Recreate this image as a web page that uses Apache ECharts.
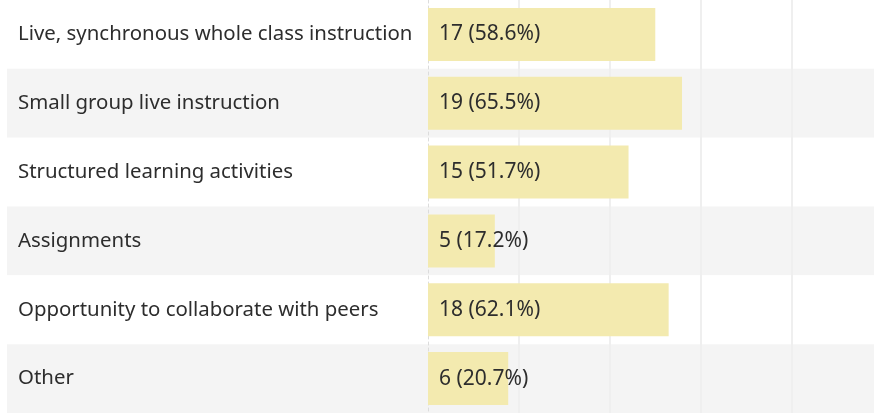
<!DOCTYPE html>
<html>
<head>
<meta charset="utf-8">
<script src="https://cdn.jsdelivr.net/npm/echarts@6/dist/echarts.min.js"></script>
<style>
html,body{margin:0;padding:0;background:#fff;}
#chart{width:874px;height:413px;}
</style>
</head>
<body>
<div id="chart"></div>
<script>
const categories = [
  "Live, synchronous whole class instruction",
  "Small group live instruction",
  "Structured learning activities",
  "Assignments",
  "Opportunity to collaborate with peers",
  "Other"
];
const counts = [17, 19, 15, 5, 18, 6];
const percents = ["58.6%", "65.5%", "51.7%", "17.2%", "62.1%", "20.7%"];

const FONT = "Noto Sans";
const chart = echarts.init(document.getElementById('chart'));
chart.setOption({
  animation: false,
  backgroundColor: '#ffffff',
  grid: [
    {left: 7, right: 0, top: -5, height: 421, containLabel: false},
    {left: 428, right: 0, top: -5, height: 421, containLabel: false}
  ],
  xAxis: [
    {gridIndex: 0, type: 'value', show: false, min: 0, max: 1},
    {gridIndex: 1, type: 'value', min: 0, max: 33.36, interval: 6.8, z: 1,
     axisLabel: {show: false}, axisLine: {show: false}, axisTick: {show: false},
     splitLine: {show: true, showMinLine: false, showMaxLine: false,
                 lineStyle: {color: '#efefef', width: 2}}}
  ],
  yAxis: [
    {gridIndex: 0, type: 'category', data: categories, inverse: true,
     axisLabel: {show: false}, axisLine: {show: false}, axisTick: {show: false},
     splitArea: {show: true, areaStyle: {color: ['#ffffff', '#f4f4f4']}}},
    {gridIndex: 1, type: 'category', data: categories, inverse: true, z: 1,
     axisTick: {show: false},
     axisLine: {show: true, lineStyle: {color: '#dcdcdc', type: [3, 3], width: 1}},
     axisLabel: {align: 'left', margin: 410, fontFamily: FONT, fontSize: 20.4, color: '#2d2d2d'}}
  ],
  series: [{
    type: 'bar',
    xAxisIndex: 1, yAxisIndex: 1,
    data: counts,
    barWidth: 53,
    itemStyle: {color: '#f3eaaf'},
    label: {
      show: true, position: 'insideLeft', distance: 11,
      fontFamily: FONT, fontSize: 21, color: '#2d2d2d',
      formatter: p => counts[p.dataIndex] + ' (' + percents[p.dataIndex] + ')'
    }
  }]
});
</script>
</body>
</html>
